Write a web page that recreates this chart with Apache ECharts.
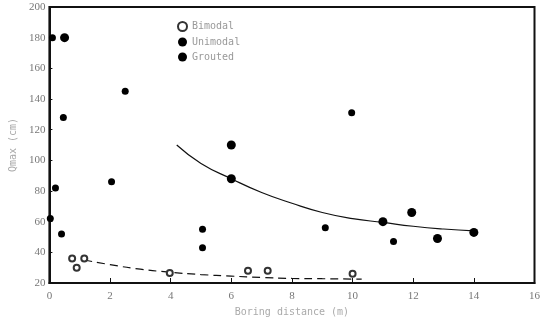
<!DOCTYPE html>
<html>
<head>
<meta charset="utf-8">
<script src="https://cdn.jsdelivr.net/npm/echarts@6/dist/echarts.min.js"></script>
<style>
  html, body { margin: 0; padding: 0; background: #fff; }
  #chart { width: 543px; height: 325px; }
</style>
</head>
<body>
<div id="chart"></div>
<script>
// Peak flow vs. boring distance, three borehole groups
const bimodal = [[0.75, 36], [1.15, 36], [0.9, 30], [3.97, 26.5], [6.55, 28], [7.2, 28], [10.0, 26]];
const unimodal = [[0.1, 180], [0.46, 128], [2.5, 145], [0.2, 82], [0.03, 62], [0.4, 52],
                  [2.05, 86], [5.05, 55], [5.05, 43], [9.1, 56], [9.97, 131], [11.35, 47]];
const grouted = [[0.5, 180], [6.0, 110], [6.0, 88], [11.0, 60], [11.95, 66], [12.8, 49], [14.0, 53]];
// Fitted trends
const groutedTrend = [[4.2, 110], [5, 98], [6, 88], [7, 79], [8, 72], [9, 66], [10, 62],
                      [11, 59.5], [12, 57], [13, 55.2], [14, 54]];
const bimodalTrend = [[1.15, 35], [2, 32], [3, 29], [4, 27], [5, 25.5], [6, 24.5], [7, 23.6],
                      [8, 23], [9, 22.8], [10.3, 22.5]];
const xTicks = [0, 2, 4, 6, 8, 10, 12, 14, 16];
const yTicks = [20, 40, 60, 80, 100, 120, 140, 160, 180, 200];

const txt = { color: '#777', fontFamily: 'Liberation Serif', fontSize: 11 };

const chart = echarts.init(document.getElementById('chart'));
chart.setOption({
  animation: false,
  backgroundColor: '#fff',
  grid: { left: 47, right: 5, top: 7, bottom: 42, show: true, borderColor: '#111', borderWidth: 2 },
  legend: {
    orient: 'vertical', left: 172, top: 16, itemWidth: 9, itemHeight: 9, itemGap: 5,
    data: ['Bimodal', 'Unimodal', 'Grouted'],
    textStyle: { color: '#999', fontFamily: 'DejaVu Sans Mono', fontSize: 10 }
  },
  xAxis: {
    type: 'value', min: xTicks[0], max: xTicks[xTicks.length - 1], interval: 2,
    name: 'Boring distance (m)', nameLocation: 'middle', nameGap: 24,
    nameTextStyle: { color: '#aaa', fontFamily: 'DejaVu Sans Mono', fontSize: 10 },
    axisLine: { lineStyle: { color: '#111', width: 2 } },
    axisTick: { inside: true, length: 5, lineStyle: { color: '#111' } },
    axisLabel: Object.assign({ margin: 8 }, txt),
    splitLine: { show: false }
  },
  yAxis: {
    type: 'value', min: yTicks[0], max: yTicks[yTicks.length - 1], interval: 20,
    name: 'Qmax (cm)', nameLocation: 'middle', nameGap: 28, nameRotate: 90,
    nameTextStyle: { color: '#aaa', fontFamily: 'DejaVu Sans Mono', fontSize: 10 },
    axisLine: { lineStyle: { color: '#111', width: 2 } },
    axisTick: { inside: true, length: 3, lineStyle: { color: '#111' } },
    axisLabel: Object.assign({ margin: 4 }, txt),
    splitLine: { show: false }
  },
  series: [
    { name: 'Grouted trend', type: 'line', data: groutedTrend, smooth: true, symbol: 'none',
      lineStyle: { color: '#111', width: 1.2 }, z: 1 },
    { name: 'Bimodal trend', type: 'line', data: bimodalTrend, smooth: true, symbol: 'none',
      lineStyle: { color: '#111', width: 1.2, type: [8, 5] }, z: 1 },
    { name: 'Bimodal', type: 'scatter', data: bimodal, symbol: 'emptyCircle', symbolSize: 6,
      itemStyle: { color: '#333', borderWidth: 1.2, opacity: 1 }, z: 3 },
    { name: 'Unimodal', type: 'scatter', data: unimodal, symbol: 'circle', symbolSize: 7,
      itemStyle: { color: '#000', opacity: 1 }, z: 3 },
    { name: 'Grouted', type: 'scatter', data: grouted, symbol: 'circle', symbolSize: 9,
      itemStyle: { color: '#000', opacity: 1 }, z: 3 }
  ]
});
</script>
</body>
</html>
